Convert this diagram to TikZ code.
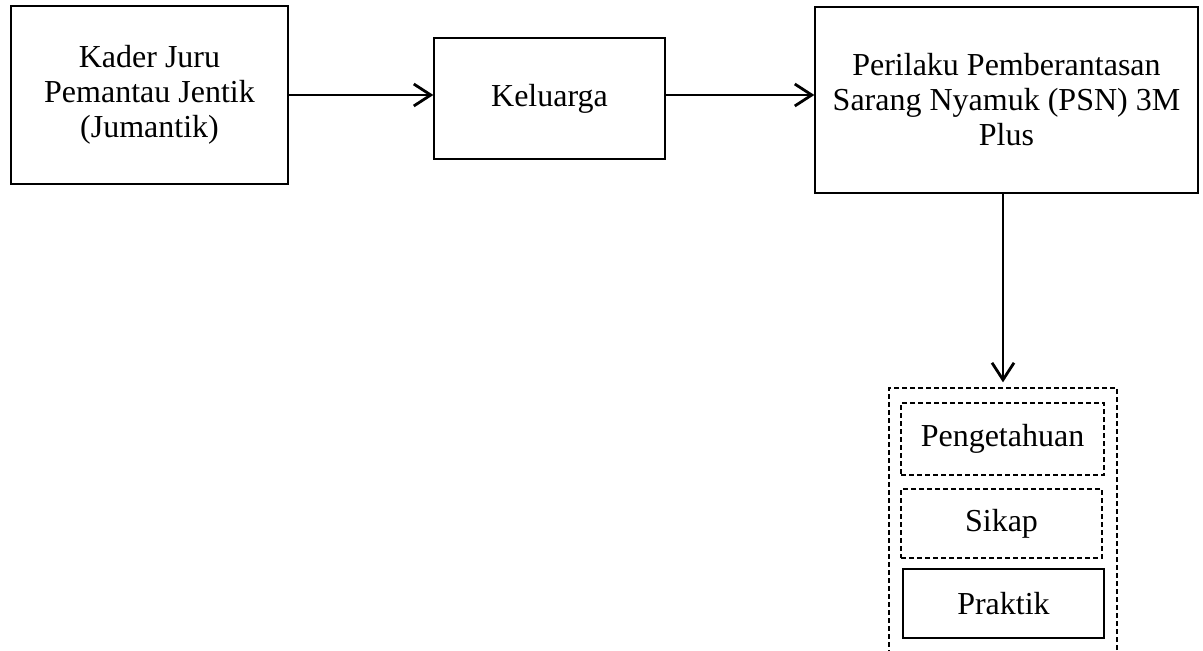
\documentclass[tikz,border=0pt]{standalone}
\usepackage{fontspec}
\setmainfont{Liberation Serif}
\usetikzlibrary{arrows.meta}
\begin{document}
\begin{tikzpicture}[x=1pt,y=-1pt,
    box/.style={draw, line width=1.3pt, align=center, inner sep=0pt,
      font=\fontsize{32}{35}\selectfont},
    dashbox/.style={box, dash pattern=on 5pt off 3pt},
    link/.style={line width=2.8pt,
      -{Straight Barb[length=17pt,width=22pt,line width=2.8pt]}}]
    \clip (0,0) rectangle (1203,651);
    \node[box, minimum width=277pt, minimum height=178pt] (kader) at (149.5,95)
      {Kader Juru\\Pemantau Jentik\\(Jumantik)};
    \node[box, minimum width=231pt, minimum height=121pt] (keluarga) at (549.5,98.5)
      {Keluarga};
    \node[box, minimum width=383pt, minimum height=186pt] (perilaku) at (1006.5,100)
      {Perilaku Pemberantasan\\Sarang Nyamuk (PSN) 3M\\Plus};
    % outer box runs past the bottom edge
    \node[dashbox, minimum width=228pt, minimum height=330pt] (wadah) at (1003,553) {};
    \node[dashbox, minimum width=203pt, minimum height=72pt] (tahu) at (1002.5,439)
      {Pengetahuan};
    \node[dashbox, minimum width=201pt, minimum height=69pt] (sikap) at (1001.5,523.5)
      {Sikap};
    \node[box, minimum width=201pt, minimum height=69pt] (praktik) at (1003.5,603.5)
      {Praktik};
    \draw[link] (kader.east) -- (keluarga.west |- kader.east);
    \draw[link] (keluarga.east |- kader.east) -- (perilaku.west |- kader.east);
    \draw[link, shorten >=5pt] (perilaku.south -| wadah.north) -- (wadah.north);
\end{tikzpicture}
\end{document}
